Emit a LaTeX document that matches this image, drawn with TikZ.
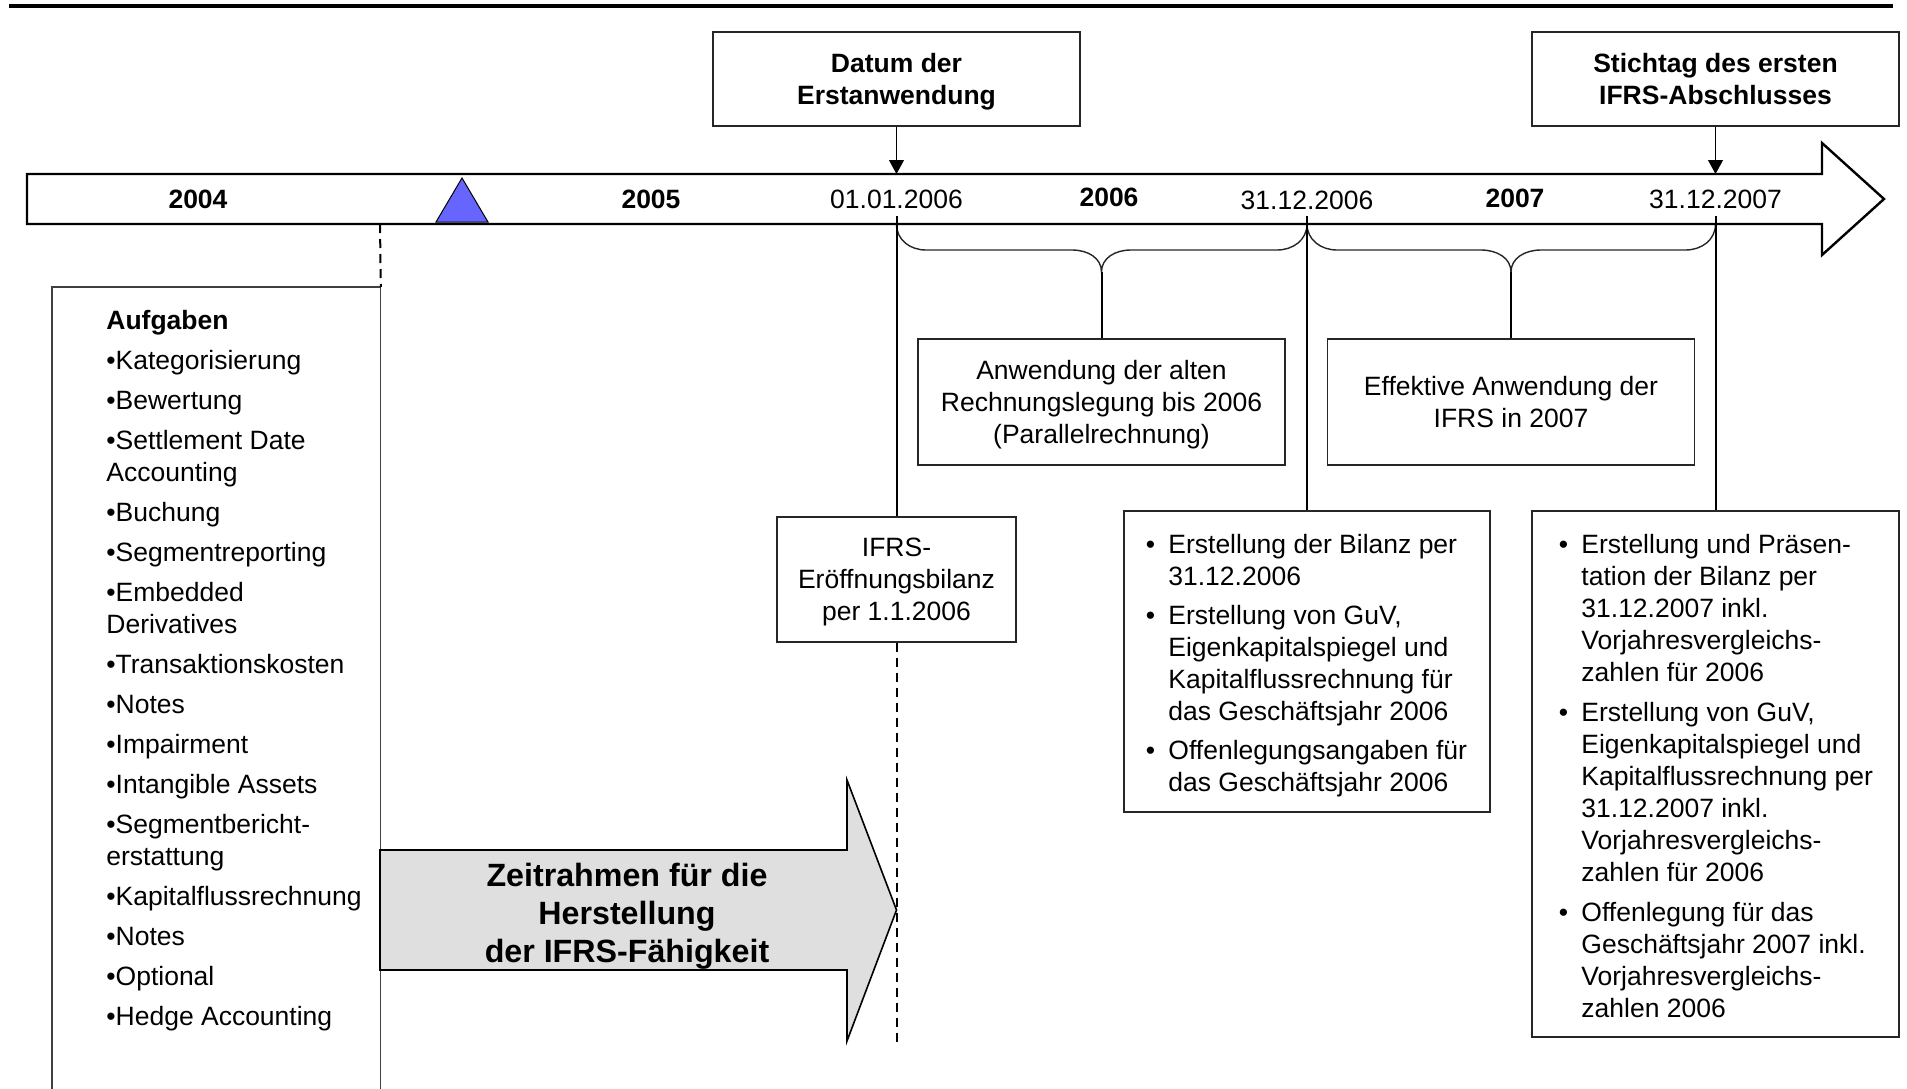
\documentclass[tikz,border=0pt]{standalone}
\usepackage{fontspec}
\setmainfont{Liberation Sans}
\usetikzlibrary{arrows.meta, positioning, calc}

\definecolor{markblue}{RGB}{102,102,255}

\begin{document}
\begin{tikzpicture}[
    x=0.5pt, y=-0.5pt,
    every node/.style = {font=\fontsize{13.25}{16}\selectfont, inner sep=0pt},
    box/.style = {
        rectangle, draw=black!85, line width=0.6pt, fill=white,
        minimum width=183.5pt, align=center, text depth=0pt
    },
    headbox/.style = {
        box, minimum height=47pt,
        font=\fontsize{13.25}{16}\selectfont\bfseries
    },
    listtxt/.style = {anchor=north west},
    yr/.style = {anchor=base, font=\fontsize{13.25}{16}\selectfont\bfseries},
    dt/.style = {anchor=base},
    arr/.style = {-{Triangle[length=7pt,width=7.5pt]}, line width=0.5pt},
    vline/.style = {line width=1pt},
    dline/.style = {line width=1pt, dash pattern=on 4.5pt off 3pt},
    brc/.style = {line width=0.7pt, draw=black!85},
    aufgframe/.style = {line width=0.6pt, draw=black!75}
]
\useasboundingbox (0,0) rectangle (1907,1088);

%% Top rule
\draw[line width=1.6pt] (9,6) -- (1893,6);

%% Timeline arrow
\draw[line width=1.2pt, fill=white]
    (27,174) -- (1822,174) -- (1822,143) -- (1884,199)
    -- (1822,255) -- (1822,224) -- (27,224) -- cycle;
\draw[fill=markblue, line width=0.5pt] (436,222) -- (462,178) -- (488,222) -- cycle;

%% Timeline labels
\node[yr] (y2004)  at (198,208)    {2004};
\node[yr] (y2005)  at (651,208)    {2005};
\node[dt] (d0101)  at (896.5,208)  {01.01.2006};
\node[yr] (y2006)  at (1109,206)   {2006};
\node[dt] (d3112a) at (1307,209)   {31.12.2006};
\node[yr] (y2007)  at (1515,207)   {2007};
\node[dt] (d3112b) at (1715.5,208) {31.12.2007};

%% Marks on the timeline
\coordinate (top06)  at (896.5,174);
\coordinate (top07)  at (1715.5,174);
\coordinate (m0101)  at (896.5,216);
\coordinate (m3112a) at (1307,216);
\coordinate (m3112b) at (1715.5,216);
\coordinate (cut05)  at (380,224);
\coordinate (end06)  at (896.5,1046);

%% Boxes above the timeline
\node[headbox] (datum)    at (896.5,79)  {Datum der\\Erstanwendung};
\node[headbox] (stichtag) at (1715.5,79) {Stichtag des ersten\\IFRS-Abschlusses};

%% Boxes below the timeline
\node[box, minimum height=63pt] (alt) at (1101.5,402)
    {Anwendung der alten\\Rechnungslegung bis 2006\\(Parallelrechnung)};
\node[box, minimum height=63pt] (eff) at (1511,402)
    {Effektive Anwendung der\\IFRS in 2007};
\node[box, minimum width=119.5pt, minimum height=62.5pt] (eroeff) at (896.5,579.5)
    {IFRS-\\Eröffnungsbilanz\\per 1.1.2006};

\node[box, minimum width=183pt, minimum height=150.5pt] (jahr06) at (1307,661.5) {};
\node[listtxt] (jahr06txt) at (1145.5,531) {%
    \begin{tabular}{@{}p{11.25pt}@{}l@{}}
    \textbullet & Erstellung der Bilanz per\\
                & 31.12.2006\\[3.5pt]
    \textbullet & Erstellung von GuV,\\
                & Eigenkapitalspiegel und\\
                & Kapitalflussrechnung für\\
                & das Geschäftsjahr 2006\\[3.5pt]
    \textbullet & Offenlegungsangaben für\\
                & das Geschäftsjahr 2006
    \end{tabular}};

\node[box, minimum height=263pt] (jahr07) at (1715.5,774) {};
\node[listtxt] (jahr07txt) at (1558.5,531) {%
    \begin{tabular}{@{}p{11.25pt}@{}l@{}}
    \textbullet & Erstellung und Präsen-\\
                & tation der Bilanz per\\
                & 31.12.2007 inkl.\\
                & Vorjahresvergleichs-\\
                & zahlen für 2006\\[4pt]
    \textbullet & Erstellung von GuV,\\
                & Eigenkapitalspiegel und\\
                & Kapitalflussrechnung per\\
                & 31.12.2007 inkl.\\
                & Vorjahresvergleichs-\\
                & zahlen für 2006\\[4pt]
    \textbullet & Offenlegung für das\\
                & Geschäftsjahr 2007 inkl.\\
                & Vorjahresvergleichs-\\
                & zahlen 2006
    \end{tabular}};

%% Aufgaben box (open at the bottom)
\node[anchor=north west, minimum width=164pt, minimum height=400.5pt] (aufg) at (52,287) {};
\draw[aufgframe] (aufg.south west) |- (aufg.north east) -- (aufg.south east);
\node[anchor=north west, align=left] (aufgtxt) at (106,310) {%
    \textbf{Aufgaben}\\[4pt]
    \textbullet Kategorisierung\\[4pt]
    \textbullet Bewertung\\[4pt]
    \textbullet Settlement Date\\
    Accounting\\[4pt]
    \textbullet Buchung\\[4pt]
    \textbullet Segmentreporting\\[4pt]
    \textbullet Embedded\\
    Derivatives\\[4pt]
    \textbullet Transaktionskosten\\[4pt]
    \textbullet Notes\\[4pt]
    \textbullet Impairment\\[4pt]
    \textbullet Intangible Assets\\[4pt]
    \textbullet Segmentbericht-\\
    erstattung\\[4pt]
    \textbullet Kapitalflussrechnung\\[4pt]
    \textbullet Notes\\[4pt]
    \textbullet Optional\\[4pt]
    \textbullet Hedge Accounting};

%% Time frame arrow
\draw[line width=0.8pt, fill=gray!25]
    (380,850) -- (847,850) -- (847,780) -- (896.5,910)
    -- (847,1041) -- (847,970) -- (380,970) -- cycle;
\node[align=center, font=\fontsize{16.1}{19}\selectfont\bfseries] (zeit) at (627,916)
    {Zeitrahmen für die\\Herstellung\\der IFRS-Fähigkeit};

%% Braces
\draw[brc] (896.5,224)
    .. controls (896.5,240) and (910,250) .. (926,250) -- (1072,250)
    .. controls (1088,250) and (1101.5,258) .. (1101.5,272)
    .. controls (1101.5,258) and (1115,250) .. (1131,250) -- (1277,250)
    .. controls (1293,250) and (1307,240) .. (1307,224);
\draw[brc] (1307,224)
    .. controls (1307,240) and (1321,250) .. (1337,250) -- (1481,250)
    .. controls (1497,250) and (1511,258) .. (1511,272)
    .. controls (1511,258) and (1525,250) .. (1541,250) -- (1685.5,250)
    .. controls (1701.5,250) and (1715.5,240) .. (1715.5,224);
\coordinate (tip06) at (1101.5,272);
\coordinate (tip07) at (1511,272);

%% Connectors
\draw[arr] (datum.south)    -- (top06);
\draw[arr] (stichtag.south) -- (top07);
\draw[vline] (m0101)  -- (eroeff.north);
\draw[vline] (m3112a) -- (jahr06.north);
\draw[vline] (m3112b) -- (jahr07.north);
\draw[vline] (tip06)  -- (alt.north);
\draw[vline] (tip07)  -- (eff.north);
\draw[dline] (cut05)  -- (aufg.north east);
\draw[dline] (eroeff.south) -- (end06);

\end{tikzpicture}
\end{document}
